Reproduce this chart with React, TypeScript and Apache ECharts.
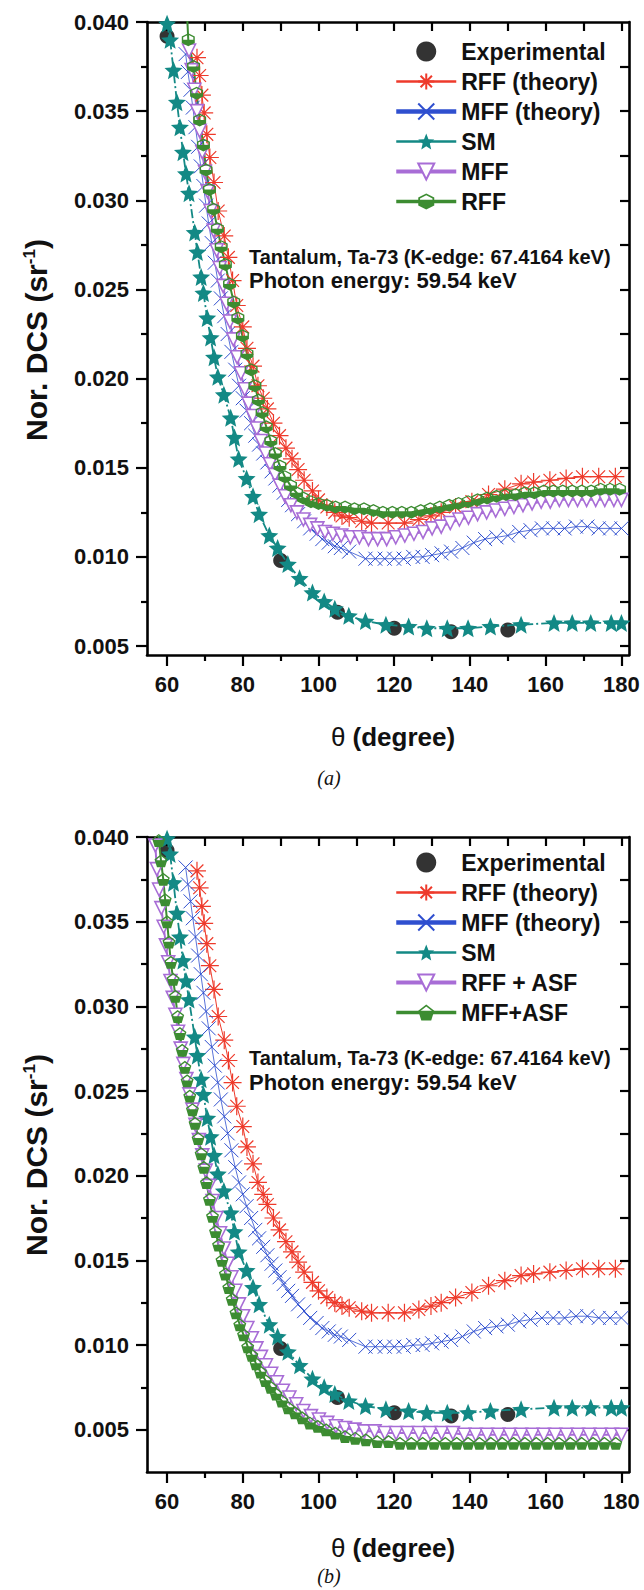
import React, { useEffect, useRef } from "react";
import * as echarts from "echarts";

const FONT = '"Liberation Sans", Arial, Helvetica, sans-serif';
const SERIF = '"Liberation Serif", "Times New Roman", serif';

const RED = "#ee3a2b";
const BLUE = "#2f4fcf";
const TEAL = "#138985";
const PURPLE = "#a86dd6";
const GREEN = "#3c8c31";

// ---- axes ----
const thetaMin = 54.7;
const thetaMax = 182;
const thetaLabels = [60, 80, 100, 120, 140, 160, 180];
const thetaMinorTicks = [70, 90, 110, 130, 150, 170];
const thetaAllTicks = [60, 70, 80, 90, 100, 110, 120, 130, 140, 150, 160, 170, 180];

const dcsMax = 0.04;
const dcsMinA = 0.0045;
const dcsMinB = 0.0025;
const dcsLabels = [0.005, 0.01, 0.015, 0.02, 0.025, 0.03, 0.035, 0.04];
const dcsMinorTicks = [0.0075, 0.0125, 0.0175, 0.0225, 0.0275, 0.0325, 0.0375];
const dcsAllTicks = [0.005, 0.0075, 0.01, 0.0125, 0.015, 0.0175, 0.02, 0.0225, 0.025, 0.0275, 0.03, 0.0325, 0.035, 0.0375];

// ---- data: [theta (deg), normalised DCS (sr^-1)] ----
const expTheta = [60, 90, 105, 120, 135, 150];
const expDCS = [0.0392, 0.0098, 0.0069, 0.006, 0.0058, 0.0059];

const rffTheory: number[][] = [
  [67.9, 0.038], [68.6, 0.037], [69.2, 0.0359], [69.8, 0.0349], [70.5, 0.0337], [71.3, 0.0324],
  [72.4, 0.031], [73.5, 0.0294], [75.1, 0.028], [76.2, 0.0268], [77.3, 0.0255], [78.4, 0.0241],
  [80.0, 0.0229], [81.1, 0.0217], [82.7, 0.0207], [84.0, 0.0196], [85.4, 0.0189], [86.5, 0.0183],
  [88.1, 0.0175], [89.7, 0.0168], [91.4, 0.0161], [93.0, 0.0155], [94.6, 0.0149], [96.2, 0.0143],
  [98.4, 0.0137], [100.0, 0.0132], [102.2, 0.0128], [104.3, 0.0125], [106.2, 0.0123], [108.1, 0.0122],
  [111.4, 0.012], [114.0, 0.0119], [118.4, 0.0119], [122.7, 0.0119], [126.5, 0.0121], [129.7, 0.0123],
  [132.4, 0.0125], [136.2, 0.0128], [140.5, 0.0131], [144.9, 0.0135], [149.2, 0.0138], [153.5, 0.0141],
  [156.8, 0.0142], [161.1, 0.0143], [165.4, 0.0144], [169.7, 0.0145], [174.0, 0.0145], [178.4, 0.0145],
];

const mffTheory: number[][] = [
  [64.9, 0.0382], [65.5, 0.0372], [66.2, 0.0362], [66.8, 0.0352], [67.5, 0.0341], [68.2, 0.033],
  [68.9, 0.0319], [69.6, 0.0308], [70.3, 0.0297], [71.0, 0.0287], [71.8, 0.0276], [72.6, 0.0265],
  [73.4, 0.0255], [74.2, 0.0245], [75.1, 0.0235], [76.0, 0.0225], [77.0, 0.0215], [78.0, 0.0205],
  [79.0, 0.0196], [80.0, 0.0189], [81.0, 0.0182], [82.2, 0.0175], [83.3, 0.0168], [84.3, 0.0163],
  [85.4, 0.0158], [86.5, 0.0153], [87.6, 0.0148], [88.6, 0.0144], [89.7, 0.014], [90.8, 0.0136],
  [92.0, 0.0132], [93.0, 0.0129], [94.6, 0.0124], [96.2, 0.012], [97.8, 0.0116], [99.5, 0.0113],
  [101.0, 0.011], [102.7, 0.0108], [104.3, 0.0106], [105.9, 0.0105], [108.1, 0.0103], [112.4, 0.0099],
  [115.0, 0.0099], [117.5, 0.0099], [120.0, 0.0099], [122.5, 0.0099], [125.0, 0.01], [127.5, 0.01],
  [130.0, 0.0101], [132.5, 0.0102], [135.0, 0.0103], [138.0, 0.0105], [141.0, 0.0108], [144.0, 0.011],
  [147.0, 0.0111], [150.0, 0.0112], [153.0, 0.0114], [156.0, 0.0115], [159.0, 0.0116], [162.0, 0.0116],
  [165.0, 0.0116], [168.0, 0.0117], [171.0, 0.0117], [174.0, 0.0116], [177.0, 0.0116], [180.0, 0.0116],
];

const smModel: number[][] = [
  [60.0, 0.0399], [60.8, 0.039], [61.7, 0.0373], [62.6, 0.0355], [63.4, 0.0341], [64.2, 0.0327],
  [65.0, 0.0315], [65.8, 0.0304], [67.3, 0.0282], [68.0, 0.0271], [69.0, 0.0257], [69.6, 0.0248],
  [70.6, 0.0234], [71.5, 0.0223], [72.4, 0.0212], [73.4, 0.0201], [75.0, 0.0191], [76.8, 0.0178],
  [77.8, 0.0167], [78.9, 0.0155], [81.0, 0.0144], [82.7, 0.0134], [84.3, 0.0124], [87.0, 0.0112],
  [89.2, 0.0105], [91.9, 0.0096], [95.0, 0.0088], [98.4, 0.008], [101.5, 0.0075], [104.3, 0.0071],
  [108.0, 0.0067], [112.4, 0.0064], [117.8, 0.0062], [123.8, 0.0061], [128.6, 0.006], [134.0, 0.006],
  [139.5, 0.006], [145.4, 0.0061], [153.5, 0.0062], [162.2, 0.0063], [167.0, 0.0063], [171.9, 0.0063],
  [177.3, 0.0063], [180.0, 0.0063],
];

// panel (a) extra curves
const mffA: number[][] = [
  [65.8, 0.0384], [66.5, 0.0373], [67.2, 0.0362], [67.9, 0.035], [68.6, 0.0339], [69.3, 0.0327],
  [70.0, 0.0316], [70.7, 0.0305], [71.5, 0.0294], [72.3, 0.0283], [73.1, 0.0272], [73.9, 0.0262],
  [74.8, 0.0252], [75.7, 0.0242], [76.6, 0.0232], [77.5, 0.0222], [78.5, 0.0212], [79.5, 0.0203],
  [80.5, 0.0194], [81.5, 0.0186], [82.6, 0.0179], [83.7, 0.0172], [84.8, 0.0165], [86.0, 0.0158],
  [87.2, 0.0152], [88.5, 0.0146], [89.8, 0.014], [91.2, 0.0134], [92.7, 0.0129], [94.3, 0.0125],
  [96.0, 0.0121], [97.8, 0.0118], [99.7, 0.0116], [101.7, 0.0114], [103.8, 0.0113], [106.0, 0.0112],
  [108.4, 0.0111], [110.8, 0.0111], [113.2, 0.011], [115.6, 0.011], [118.0, 0.011], [120.4, 0.0111],
  [122.8, 0.0112], [125.2, 0.0113], [127.6, 0.0114], [130.0, 0.0116], [132.4, 0.0117], [134.8, 0.0119],
  [137.2, 0.0121], [139.6, 0.0122], [142.0, 0.0124], [144.4, 0.0125], [146.8, 0.0126], [149.2, 0.0127],
  [151.6, 0.0128], [154.0, 0.0129], [156.4, 0.013], [158.8, 0.0131], [161.2, 0.0131], [163.6, 0.0132],
  [166.0, 0.0132], [168.4, 0.0132], [170.8, 0.0132], [173.2, 0.0132], [175.6, 0.0132], [178.0, 0.0132],
  [180.0, 0.0132],
];

const rffA: number[][] = [
  [65.1, 0.0412], [65.6, 0.039], [67.0, 0.0375], [67.8, 0.036], [68.6, 0.0345], [69.6, 0.0331],
  [70.3, 0.0317], [71.2, 0.0306], [72.3, 0.0295], [73.3, 0.0284], [74.3, 0.0274], [75.4, 0.0264],
  [76.5, 0.0253], [77.6, 0.0243], [78.7, 0.0234], [79.9, 0.0224], [81.1, 0.0214], [82.2, 0.0205],
  [83.2, 0.0196], [84.1, 0.0188], [85.1, 0.0181], [86.2, 0.0173], [87.4, 0.0165], [88.6, 0.0158],
  [89.8, 0.0151], [91.1, 0.0145], [92.6, 0.014], [94.2, 0.0136], [96.0, 0.0133], [98.0, 0.0131],
  [100.0, 0.013], [102.2, 0.0129], [104.5, 0.0128], [107.0, 0.0128], [109.5, 0.0127], [112.0, 0.0127],
  [114.5, 0.0126], [117.0, 0.0125], [119.5, 0.0125], [122.0, 0.0125], [124.5, 0.0125], [127.0, 0.0126],
  [129.5, 0.0127], [132.0, 0.0128], [134.5, 0.0129], [137.0, 0.013], [139.5, 0.0131], [142.0, 0.0132],
  [144.5, 0.0133], [147.0, 0.0134], [149.5, 0.0135], [152.0, 0.0135], [154.5, 0.0136], [157.0, 0.0136],
  [159.5, 0.0137], [162.0, 0.0137], [164.5, 0.0137], [167.0, 0.0137], [169.5, 0.0137], [172.0, 0.0137],
  [174.5, 0.0138], [177.0, 0.0138], [179.5, 0.0138],
];

// panel (b) extra curves
const rffAsf: number[][] = [
  [56.9, 0.0395], [57.3, 0.0381], [57.9, 0.0369], [58.5, 0.0358], [59.1, 0.0347], [59.7, 0.0336],
  [60.3, 0.0326], [60.9, 0.0315], [61.5, 0.0305], [62.2, 0.0295], [62.9, 0.0285], [63.6, 0.0275],
  [64.3, 0.0266], [65.1, 0.0257], [65.9, 0.0248], [66.7, 0.0239], [67.5, 0.023], [68.4, 0.0221],
  [69.3, 0.0212], [70.2, 0.0203], [71.1, 0.0194], [72.0, 0.0185], [73.0, 0.0175], [74.0, 0.0166],
  [75.0, 0.0157], [76.0, 0.0148], [77.0, 0.014], [78.0, 0.0132], [79.0, 0.0124], [80.1, 0.0117],
  [81.2, 0.011], [82.4, 0.0104], [83.6, 0.0098], [84.8, 0.0093], [86.1, 0.0088], [87.5, 0.0083],
  [89.0, 0.0078], [90.6, 0.0073], [92.3, 0.0069], [94.1, 0.0065], [96.0, 0.0061], [98.0, 0.0058],
  [100.1, 0.0056], [102.3, 0.0054], [104.6, 0.0052], [107.0, 0.0051], [109.5, 0.005], [112.1, 0.0049],
  [114.8, 0.0049], [117.5, 0.0048], [120.5, 0.0048], [123.5, 0.0048], [126.5, 0.0048], [129.5, 0.0048],
  [132.5, 0.0048], [135.5, 0.0048], [138.5, 0.0047], [141.5, 0.0047], [144.5, 0.0047], [147.5, 0.0047],
  [150.5, 0.0047], [153.5, 0.0047], [156.5, 0.0047], [159.5, 0.0047], [162.5, 0.0047], [165.5, 0.0047],
  [168.5, 0.0047], [171.5, 0.0047], [174.5, 0.0047], [177.5, 0.0047], [180.0, 0.0047],
];

const mffAsf: number[][] = [
  [57.3, 0.0412], [57.8, 0.0398], [58.4, 0.0386], [59.0, 0.0375], [59.5, 0.0363], [60.0, 0.035],
  [60.5, 0.0338], [61.0, 0.0326], [61.6, 0.0316], [62.2, 0.0306], [62.8, 0.0294], [63.4, 0.0284],
  [64.0, 0.0274], [64.7, 0.0264], [65.3, 0.0256], [66.0, 0.0247], [66.7, 0.0239], [67.4, 0.0231],
  [68.2, 0.0222], [69.0, 0.0213], [69.7, 0.0205], [70.4, 0.0196], [71.2, 0.0186], [72.0, 0.0176],
  [72.8, 0.0167], [73.6, 0.0159], [74.5, 0.015], [75.4, 0.0142], [76.3, 0.0134], [77.2, 0.0127],
  [78.2, 0.0119], [79.2, 0.0112], [80.2, 0.0106], [81.3, 0.0099], [82.4, 0.0094], [83.5, 0.0089],
  [84.7, 0.0084], [86.0, 0.0079], [87.4, 0.0075], [88.8, 0.0071], [90.3, 0.0067], [92.0, 0.0063],
  [93.8, 0.006], [95.7, 0.0057], [97.7, 0.0054], [99.8, 0.0052], [102.0, 0.005], [104.4, 0.0048],
  [107.0, 0.0046], [109.7, 0.0045], [112.5, 0.0044], [115.5, 0.0043], [118.5, 0.0043], [121.5, 0.0042],
  [124.5, 0.0042], [127.5, 0.0042], [130.5, 0.0042], [133.5, 0.0042], [136.5, 0.0042], [139.5, 0.0042],
  [142.5, 0.0042], [145.5, 0.0042], [148.5, 0.0042], [151.5, 0.0042], [154.5, 0.0042], [157.5, 0.0042],
  [160.5, 0.0042], [163.5, 0.0042], [166.5, 0.0042], [169.5, 0.0042], [172.5, 0.0042], [175.5, 0.0042],
  [178.5, 0.0042],
];

// ---- marker shapes ----
const ASTERISK = "path://M10,0L10,20M0,10L20,10M2.9,2.9L17.1,17.1M17.1,2.9L2.9,17.1";
const CROSS = "path://M0,0L20,20M20,0L0,20";
const STAR =
  "path://M10,0L12.65,6.36L19.51,6.91L14.28,11.39L15.88,18.09L10,14.5L4.12,18.09L5.72,11.39L0.49,6.91L7.35,6.36Z";
const HALF_HEX =
  "path://M10,0L18.66,5L18.66,15L10,20L1.34,15L1.34,5ZM10,2.2L3.25,6.1L3.25,13.9L10,17.8L16.75,13.9L16.75,6.1ZM3.25,10L16.75,10L16.75,13.9L10,17.8L3.25,13.9Z";
const CUP_PENT =
  "path://M10,0L20,7.3L16.2,19L3.8,19L0,7.3ZM10,2.5L2.4,8L5.3,17L14.7,17L17.6,8ZM2.7,9L17.3,9L14.7,17L5.3,17Z";

const axisLineStyle = { color: "#000", width: 2.6 };
const tickLineStyle = { color: "#000", width: 2.2 };
const tickLabel = { fontSize: 22, fontWeight: "bold" as const, fontFamily: FONT, color: "#111" };

function xAxesFor(grid: number) {
  const base = { gridIndex: grid, type: "value" as const, min: thetaMin, max: thetaMax, splitLine: { show: false } };
  return [
    {
      ...base,
      position: "bottom",
      axisLine: { show: true, onZero: false, lineStyle: axisLineStyle },
      axisTick: { show: true, inside: false, length: 11, lineStyle: tickLineStyle, customValues: thetaLabels },
      axisLabel: { show: true, customValues: thetaLabels, margin: 18, ...tickLabel },
    },
    {
      ...base,
      position: "bottom",
      axisLine: { show: false, onZero: false },
      axisTick: { show: true, inside: false, length: 6, lineStyle: tickLineStyle, customValues: thetaMinorTicks },
      axisLabel: { show: false },
    },
    {
      ...base,
      position: "top",
      axisLine: { show: true, onZero: false, lineStyle: axisLineStyle },
      axisTick: { show: true, inside: true, length: 9, lineStyle: tickLineStyle, customValues: thetaAllTicks },
      axisLabel: { show: false },
    },
  ];
}

function yAxesFor(grid: number, min: number) {
  const base = { gridIndex: grid, type: "value" as const, min, max: dcsMax, splitLine: { show: false } };
  return [
    {
      ...base,
      position: "left",
      axisLine: { show: true, onZero: false, lineStyle: axisLineStyle },
      axisTick: { show: true, inside: false, length: 11, lineStyle: tickLineStyle, customValues: dcsLabels },
      axisLabel: {
        show: true,
        customValues: dcsLabels,
        margin: 18,
        formatter: (v: number) => v.toFixed(3),
        ...tickLabel,
      },
    },
    {
      ...base,
      position: "left",
      axisLine: { show: false, onZero: false },
      axisTick: { show: true, inside: false, length: 6, lineStyle: tickLineStyle, customValues: dcsMinorTicks },
      axisLabel: { show: false },
    },
    {
      ...base,
      position: "right",
      axisLine: { show: true, onZero: false, lineStyle: axisLineStyle },
      axisTick: { show: true, inside: true, length: 9, lineStyle: tickLineStyle, customValues: dcsAllTicks },
      axisLabel: { show: false },
    },
  ];
}

function seriesFor(panel: number) {
  const idx = { xAxisIndex: panel * 3, yAxisIndex: panel * 3 };
  const purpleData = panel === 0 ? mffA : rffAsf;
  const greenData = panel === 0 ? rffA : mffAsf;
  const purpleName = panel === 0 ? "MFF" : "RFF + ASF";
  const greenName = panel === 0 ? "RFF" : "MFF+ASF";
  return [
    {
      name: "Experimental",
      type: "scatter",
      ...idx,
      data: expTheta.map((t, i) => [t, expDCS[i]]),
      symbol: "circle",
      symbolSize: 15,
      itemStyle: { color: "#000" },
    },
    {
      name: "RFF (theory)",
      type: "line",
      ...idx,
      data: rffTheory,
      symbol: ASTERISK,
      symbolSize: 18,
      itemStyle: { color: "transparent", borderColor: RED, borderWidth: 1.2 },
      lineStyle: { color: RED, width: 1 },
    },
    {
      name: "MFF (theory)",
      type: "line",
      ...idx,
      data: mffTheory,
      symbol: CROSS,
      symbolSize: 14,
      itemStyle: { color: "transparent", borderColor: BLUE, borderWidth: 1 },
      lineStyle: { color: BLUE, width: 0.8 },
    },
    {
      name: "SM",
      type: "line",
      ...idx,
      data: smModel,
      symbol: STAR,
      symbolSize: 18,
      itemStyle: { color: TEAL },
      lineStyle: { color: TEAL, width: 1.8, type: [9, 3, 2, 3] },
    },
    {
      name: purpleName,
      type: "line",
      ...idx,
      data: purpleData,
      symbol: "triangle",
      symbolRotate: 180,
      symbolSize: 13,
      itemStyle: { color: "#fff", borderColor: PURPLE, borderWidth: 1.6 },
      lineStyle: { color: PURPLE, width: 2 },
    },
    {
      name: greenName,
      type: "line",
      ...idx,
      data: greenData,
      symbol: panel === 0 ? HALF_HEX : CUP_PENT,
      symbolSize: 13,
      itemStyle: { color: GREEN },
      lineStyle: { color: GREEN, width: 2 },
    },
  ];
}

function legendFor(panel: number, left: number, top: number) {
  const purpleName = panel === 0 ? "MFF" : "RFF + ASF";
  const greenName = panel === 0 ? "RFF" : "MFF+ASF";
  return {
    orient: "vertical",
    left,
    top,
    itemWidth: 60,
    itemHeight: 20,
    itemGap: 7,
    selectedMode: false,
    textStyle: { fontSize: 23, fontWeight: "bold", fontFamily: FONT, color: "#111" },
    data: [
      { name: "Experimental" },
      { name: "RFF (theory)", lineStyle: { width: 2.5 } },
      { name: "MFF (theory)", lineStyle: { width: 4.5 } },
      { name: "SM", lineStyle: { width: 2.5, type: "solid" } },
      { name: purpleName, lineStyle: { width: 4 } },
      { name: greenName, lineStyle: { width: 3.5 } },
    ],
  };
}

function annotation(y1: number, y2: number) {
  return [
    {
      type: "text",
      x: 249,
      y: y1,
      style: {
        text: "{a|Tantalum, Ta-73 }{b|(K-edge: 67.4164 keV)}",
        rich: {
          a: { fontSize: 20, fontWeight: "bold", fontFamily: FONT, fill: "#111" },
          b: { fontSize: 20, fontWeight: "bold", fontFamily: FONT, fill: "#111" },
        },
        align: "left",
        verticalAlign: "middle",
      },
    },
    {
      type: "text",
      x: 249,
      y: y2,
      style: {
        text: "Photon energy: 59.54 keV",
        fontSize: 22,
        fontWeight: "bold",
        fontFamily: FONT,
        fill: "#111",
        align: "left",
        verticalAlign: "middle",
      },
    },
  ];
}

function yName(y: number) {
  return {
    type: "text",
    x: 36,
    y,
    rotation: Math.PI / 2,
    style: {
      text: "{b|Nor. DCS (sr}{s|-1}{b|)}",
      rich: {
        b: { fontSize: 30, fontWeight: "bold", fontFamily: FONT, fill: "#111" },
        s: { fontSize: 17, fontWeight: "bold", fontFamily: FONT, fill: "#111", padding: [0, 0, 14, 0] },
      },
      align: "center",
      verticalAlign: "middle",
    },
  };
}

function xName(y: number) {
  return {
    type: "text",
    x: 393,
    y,
    style: {
      text: "{t|θ }{b|(degree)}",
      rich: {
        t: { fontSize: 26, fontWeight: "normal", fontFamily: FONT, fill: "#111" },
        b: { fontSize: 26, fontWeight: "bold", fontFamily: FONT, fill: "#111" },
      },
      align: "center",
      verticalAlign: "middle",
    },
  };
}

function panelTag(text: string, y: number) {
  return {
    type: "text",
    x: 329,
    y,
    style: {
      text,
      fontSize: 20,
      fontStyle: "italic",
      fontFamily: SERIF,
      fill: "#111",
      align: "center",
      verticalAlign: "middle",
    },
  };
}

const option = {
  animation: false,
  backgroundColor: "#fff",
  textStyle: { fontFamily: FONT },
  grid: [
    { left: 147, top: 22, width: 482, height: 633 },
    { left: 147, top: 837, width: 482, height: 635 },
  ],
  xAxis: [...xAxesFor(0), ...xAxesFor(1)],
  yAxis: [...yAxesFor(0, dcsMinA), ...yAxesFor(1, dcsMinB)],
  legend: [legendFor(0, 389, 35), legendFor(1, 389, 846)],
  series: [...seriesFor(0), ...seriesFor(1)],
  graphic: [
    yName(340),
    yName(1155),
    ...annotation(257, 280),
    ...annotation(1058, 1082),
    xName(737),
    xName(1548),
    panelTag("(a)", 778),
    panelTag("(b)", 1576),
  ],
};

export default function App() {
  const ref = useRef<HTMLDivElement>(null);
  useEffect(() => {
    document.body.style.margin = "0";
    const chart = echarts.init(ref.current as HTMLDivElement, null, { renderer: "svg" });
    chart.setOption(option as any);
    return () => chart.dispose();
  }, []);
  return <div ref={ref} style={{ width: 644, height: 1590, background: "#fff" }} />;
}
